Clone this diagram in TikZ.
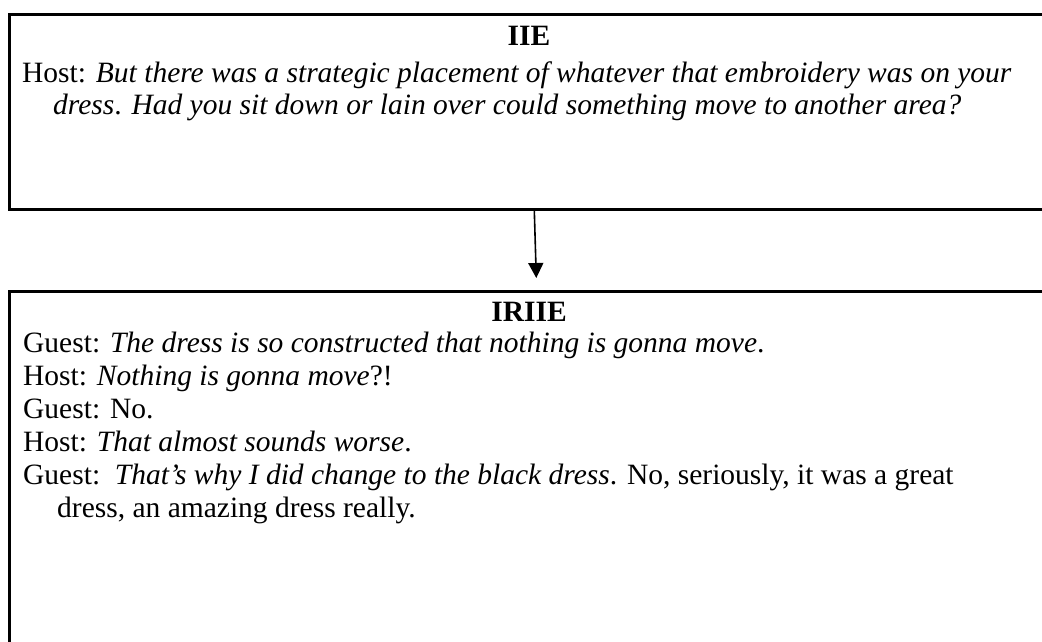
\documentclass[tikz,border=0pt]{standalone}
\usepackage{fontspec}
\setmainfont{Liberation Serif}
\usetikzlibrary{arrows.meta,calc}

\begin{document}
\begin{tikzpicture}[x=1pt,y=-1pt,>={Triangle[length=15pt,width=15pt]},
  panel/.style={draw,line width=2.6pt,minimum width=1044pt,anchor=north west,inner sep=0pt},
  title/.style={font=\fontsize{29.5}{33}\selectfont\bfseries,anchor=base,inner sep=0pt},
  speech/.style={font=\fontsize{29.5}{33}\selectfont,anchor=base west,inner sep=0pt}]
\clip (0,0) rectangle (1042,641);
% top panel
\node[panel,minimum height=195pt] (iie) at (8,13) {};
\node[title] (iieT) at (529,45) {IIE};
\node[speech] (h1) at (22,82) {Host: \textit{But there was a strategic placement of whatever that embroidery was on your}};
\node[speech] (h2) at (53,114) {\textit{dress}. \textit{Had you sit down or lain over could something move to another area?}};
% bottom panel, runs off the page
\node[panel,minimum height=400pt] (iriie) at (8,290) {};
\node[title] (iriieT) at (529,321) {IRIIE};
\node[speech] (g1) at (23,352) {Guest: \textit{The dress is so constructed that nothing is gonna move}.};
\node[speech] (g2) at (23,385) {Host: \textit{Nothing is gonna move}?!};
\node[speech] (g3) at (23,418) {Guest: No.};
\node[speech] (g4) at (23,451) {Host: \textit{That almost sounds worse}.};
\node[speech] (g5) at (23,484) {Guest:\ \ \textit{That’s why I did change to the black dress}. No, seriously, it was a great};
\node[speech] (g6) at (57,517) {dress, an amazing dress really.};
\draw[->,line width=1.6pt] ($(iie.south)+(3,0)$) -- ($(iriie.north)+(5,-12)$);
\end{tikzpicture}
\end{document}
